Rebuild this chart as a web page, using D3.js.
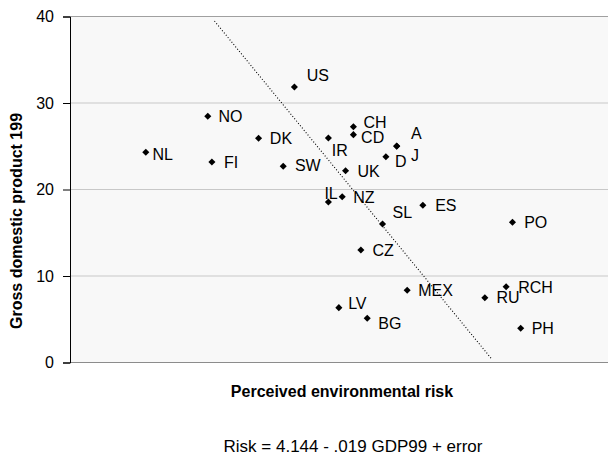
<!DOCTYPE html>
<html>
<head>
<meta charset="utf-8">
<script src="https://cdn.jsdelivr.net/npm/d3@7"></script>
<style>
  html, body { margin: 0; padding: 0; background: #ffffff; }
  svg { display: block; font-family: "Liberation Sans", Arial, sans-serif; }
</style>
</head>
<body>
<svg id="chart" width="608" height="457"></svg>
<script>
// ---- data ----
const countries = ["NL","NO","DK","FI","SW","US","CH","CD","IR","A","J","D","UK","IL","NZ","SL","ES","CZ","MEX","LV","BG","RU","RCH","PH","PO"];
const risk      = [3.210,3.376,3.512,3.387,3.578,3.608,3.766,3.766,3.699,3.882,3.882,3.853,3.745,3.699,3.736,3.844,3.952,3.786,3.910,3.727,3.803,4.118,4.175,4.214,4.192];
const gdp99     = [24.30,28.46,25.92,23.18,22.68,31.85,27.26,26.34,25.95,25.03,25.00,23.79,22.17,18.55,19.17,16.01,18.17,13.01,8.35,6.34,5.11,7.49,8.76,3.95,16.21];
const yTicks    = [0,10,20,30,40];
const trendIntercept = 4.144;
const trendSlope = -0.019;
const trendGdp  = [39.48, 0.37];
const xTitle = "Perceived environmental risk";
const yTitle = "Gross domestic product 199";
const equation = "Risk = 4.144 - .019 GDP99 + error";

// label placement (style, not data): offset of label from marker
const labelOffset = {
  NL:[6.6,2], NO:[10.6,0], DK:[11.3,-0.5], FI:[12,0], SW:[11.7,-0.8], US:[12.4,-12],
  CH:[10,-4.7], CD:[7.7,3], IR:[3.4,12], A:[14.3,-12.7], J:[14.3,9.3], D:[9,4.7],
  UK:[12,0], IL:[-4,-9], NZ:[11,0.3], SL:[10,-11.8], ES:[12.3,0], CZ:[11.6,0],
  MEX:[11,0], LV:[9.3,-4.4], BG:[11,5.4], RU:[11.7,-0.7], RCH:[12,0], PH:[11,-0.5], PO:[11.7,0.4]
};

// ---- layout ----
const L = 70, R = 610, T = 16.5, B = 362.5;
const x = d3.scaleLinear().domain([3.007, 3.007 + (R - L) / 373.4]).range([L, R]);
const y = d3.scaleLinear().domain([0, 40]).range([B, T]);

const svg = d3.select("#chart");

// plot background
svg.append("rect").attr("x", L).attr("y", T).attr("width", R - L).attr("height", B - T)
  .attr("fill", "#f8f8f8");

// gridlines
svg.append("g").selectAll("line").data(yTicks.filter(d => d > 0)).join("line")
  .attr("x1", L).attr("x2", R)
  .attr("y1", d => y(d)).attr("y2", d => y(d))
  .attr("stroke", d => d === 40 ? "#a0a0a0" : "#c8c8c8").attr("stroke-width", 1);

// bottom axis line
svg.append("line").attr("x1", L).attr("x2", R).attr("y1", B).attr("y2", B)
  .attr("stroke", "#8c8c8c").attr("stroke-width", 1.2);

// y axis
const yAxis = d3.axisLeft(y).tickValues(yTicks).tickSize(7).tickPadding(9).tickFormat(d3.format("d"));
const gy = svg.append("g").attr("transform", `translate(${L},0)`).call(yAxis);
gy.select(".domain").attr("stroke", "#000").attr("stroke-width", 1);
gy.selectAll(".tick line").attr("stroke", "#000");
gy.selectAll(".tick text").attr("font-size", 16).attr("fill", "#000")
  .attr("font-family", "Liberation Sans, Arial, sans-serif");

// trend line (dotted)
const trendPts = trendGdp.map(g => [trendIntercept + trendSlope * g, g]);
svg.append("path").datum(trendPts)
  .attr("d", d3.line().x(d => x(d[0])).y(d => y(d[1])))
  .attr("fill", "none").attr("stroke", "#000").attr("stroke-width", 1.1)
  .attr("stroke-dasharray", "1,2");

// points
const pts = countries.map((c, i) => ({ c, r: risk[i], g: gdp99[i] }));
const sym = d3.symbol().type(d3.symbolSquare).size(25);
svg.append("g").selectAll("path").data(pts).join("path")
  .attr("d", sym)
  .attr("transform", d => `translate(${x(d.r)},${y(d.g)}) rotate(45)`)
  .attr("fill", "#000");

// labels
svg.append("g").selectAll("text").data(pts).join("text")
  .attr("x", d => x(d.r) + labelOffset[d.c][0])
  .attr("y", d => y(d.g) + labelOffset[d.c][1] + 5.8)
  .attr("font-size", 16).attr("fill", "#000")
  .text(d => d.c);

// axis titles
svg.append("text").attr("transform", "translate(22,221) rotate(-90)")
  .attr("text-anchor", "middle").attr("font-size", 16).attr("font-weight", "bold")
  .text(yTitle);
svg.append("text").attr("x", 342).attr("y", 396.5)
  .attr("text-anchor", "middle").attr("font-size", 16).attr("font-weight", "bold")
  .text(xTitle);
svg.append("text").attr("x", 353).attr("y", 451.5)
  .attr("text-anchor", "middle").attr("font-size", 17)
  .text(equation);
</script>
</body>
</html>
